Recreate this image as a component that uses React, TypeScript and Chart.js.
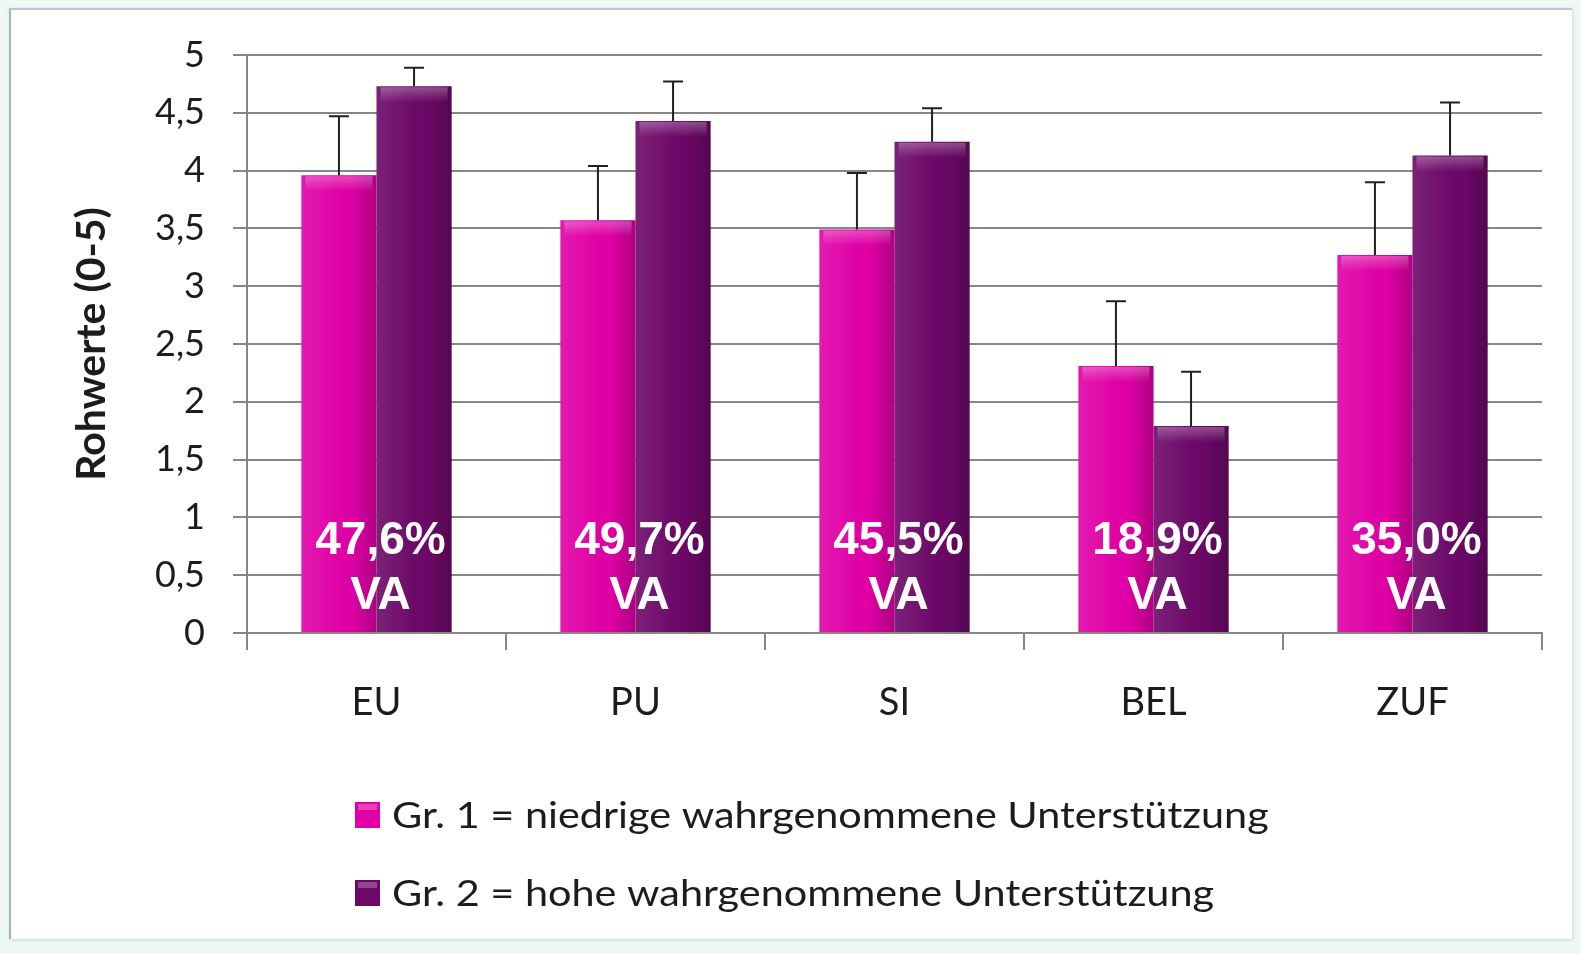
import React, { useEffect, useRef } from 'react';
import { Chart, registerables } from 'chart.js';

Chart.register(...registerables);

const categories = ['EU', 'PU', 'SI', 'BEL', 'ZUF'];
const group1Values = [3.96, 3.57, 3.49, 2.31, 3.27];
const group2Values = [4.73, 4.43, 4.25, 1.79, 4.13];
const group1Errors = [0.51, 0.47, 0.49, 0.56, 0.63];
const group2Errors = [0.16, 0.34, 0.29, 0.47, 0.46];
const yTickLabels = ['0', '0,5', '1', '1,5', '2', '2,5', '3', '3,5', '4', '4,5', '5'];
const vaPercentLabels = ['47,6%', '49,7%', '45,5%', '18,9%', '35,0%'];
const vaSuffix = 'VA';
const seriesLabels = [
  'Gr. 1 = niedrige wahrgenommene Unterstützung',
  'Gr. 2 = hohe wahrgenommene Unterstützung',
];
const yAxisTitle = 'Rohwerte (0-5)';

const PINK = '#e000a6';
const PURPLE = '#6c0868';
const GRID = '#868686';
const TEXT = '#1c1c1c';

const glossPlugin = {
  id: 'gloss',
  afterDatasetsDraw(chart: any) {
    const ctx = chart.ctx;
    chart.data.datasets.forEach((_: any, di: number) => {
      const meta = chart.getDatasetMeta(di);
      meta.data.forEach((bar: any) => {
        const left = bar.x - bar.width / 2;
        const w = bar.width;
        const top = bar.y;
        const h = bar.base - bar.y;
        ctx.save();
        const g = ctx.createLinearGradient(left, 0, left + w, 0);
        g.addColorStop(0, 'rgba(255,255,255,0.10)');
        g.addColorStop(0.35, 'rgba(255,255,255,0.04)');
        g.addColorStop(0.65, 'rgba(0,0,0,0)');
        g.addColorStop(1, 'rgba(0,0,0,0.22)');
        ctx.fillStyle = g;
        ctx.fillRect(left, top, w, h);
        const tg = ctx.createLinearGradient(0, top, 0, top + 16);
        tg.addColorStop(0, 'rgba(255,255,255,0.30)');
        tg.addColorStop(1, 'rgba(255,255,255,0)');
        ctx.fillStyle = tg;
        ctx.fillRect(left + 4, top + 1, w - 8, 16);
        ctx.restore();
      });
    });
  },
};

const errorBarPlugin = {
  id: 'errorBars',
  afterDatasetsDraw(chart: any) {
    const ctx = chart.ctx;
    const yScale = chart.scales.y;
    const errs = [group1Errors, group2Errors];
    chart.data.datasets.forEach((ds: any, di: number) => {
      const meta = chart.getDatasetMeta(di);
      meta.data.forEach((bar: any, i: number) => {
        const v = ds.data[i];
        const topPx = yScale.getPixelForValue(v + errs[di][i]);
        ctx.save();
        ctx.strokeStyle = '#202020';
        ctx.lineWidth = 2;
        ctx.beginPath();
        ctx.moveTo(bar.x, bar.y);
        ctx.lineTo(bar.x, topPx);
        ctx.moveTo(bar.x - 10, topPx);
        ctx.lineTo(bar.x + 10, topPx);
        ctx.stroke();
        ctx.restore();
      });
    });
  },
};

const vaLabelPlugin = {
  id: 'vaLabels',
  afterDatasetsDraw(chart: any) {
    const ctx = chart.ctx;
    const xScale = chart.scales.x;
    const bottom = chart.chartArea.bottom;
    ctx.save();
    ctx.fillStyle = '#ffffff';
    ctx.font = 'bold 46px "Liberation Sans", Arial, sans-serif';
    ctx.textAlign = 'center';
    ctx.textBaseline = 'middle';
    vaPercentLabels.forEach((lbl, i) => {
      const x = xScale.getPixelForValue(i) + 4;
      ctx.fillText(lbl, x, bottom - 92);
      ctx.fillText(vaSuffix, x, bottom - 37);
    });
    ctx.restore();
  },
};

const legendPlugin = {
  id: 'customLegend',
  afterDraw(chart: any) {
    const ctx = chart.ctx;
    const colors = [PINK, PURPLE];
    const rowY = [815, 893];
    ctx.save();
    seriesLabels.forEach((lbl, i) => {
      const y = rowY[i];
      ctx.fillStyle = colors[i];
      ctx.fillRect(355, y - 13, 25, 26);
      ctx.fillStyle = 'rgba(255,255,255,0.25)';
      ctx.fillRect(358, y - 11, 19, 6);
      ctx.save();
      ctx.translate(392, y + 1);
      ctx.scale(1.15, 1);
      ctx.font = '36px Lato, sans-serif';
      ctx.textBaseline = 'middle';
      ctx.textAlign = 'left';
      ctx.fillStyle = TEXT;
      ctx.fillText(lbl, 0, 0);
      ctx.restore();
    });
    ctx.restore();
  },
};

export default function App() {
  const canvasRef = useRef<HTMLCanvasElement | null>(null);

  useEffect(() => {
    document.body.style.margin = '0';
    const canvas = canvasRef.current;
    if (!canvas) return;
    const chart = new Chart(canvas, {
      type: 'bar',
      data: {
        labels: categories,
        datasets: [
          {
            label: seriesLabels[0],
            data: group1Values,
            backgroundColor: PINK,
            borderWidth: 0,
            categoryPercentage: 0.58,
            barPercentage: 1,
          },
          {
            label: seriesLabels[1],
            data: group2Values,
            backgroundColor: PURPLE,
            borderWidth: 0,
            categoryPercentage: 0.58,
            barPercentage: 1,
          },
        ],
      },
      options: {
        responsive: false,
        animation: false,
        devicePixelRatio: 1,
        layout: { padding: { top: 55, right: 39, left: 0, bottom: 221 } },
        plugins: {
          legend: { display: false },
          tooltip: { enabled: false },
        },
        scales: {
          x: {
            afterFit: (s: any) => {
              s.height = 100;
            },
            grid: {
              display: true,
              offset: true,
              drawOnChartArea: false,
              drawTicks: true,
              tickLength: 17,
              color: GRID,
              lineWidth: 2,
            },
            border: { display: true, color: GRID, width: 2 },
            ticks: {
              color: TEXT,
              font: { family: 'Lato, sans-serif', size: 38 },
              padding: 30,
              maxRotation: 0,
            },
          },
          y: {
            min: 0,
            max: 5,
            afterFit: (s: any) => {
              s.width = 247;
            },
            ticks: {
              stepSize: 0.5,
              color: TEXT,
              font: { family: 'Lato, sans-serif', size: 36 },
              padding: 28,
              callback: (_v: any, idx: number) => yTickLabels[idx],
            },
            grid: {
              color: GRID,
              lineWidth: 2,
              tickLength: 14,
            },
            border: { display: true, color: GRID, width: 2 },
            title: {
              display: true,
              text: yAxisTitle,
              color: TEXT,
              font: { family: 'Lato, sans-serif', size: 41, weight: 'bold' },
              padding: { top: 67, bottom: 0 },
            },
          },
        },
      },
      plugins: [glossPlugin, errorBarPlugin, vaLabelPlugin, legendPlugin],
    } as any);
    return () => chart.destroy();
  }, []);

  return (
    <div
      style={{
        position: 'fixed',
        left: 0,
        top: 0,
        width: 1581,
        height: 954,
        background: '#eff8f3',
        overflow: 'hidden',
      }}
    >
      <div
        style={{
          position: 'absolute',
          left: 9,
          top: 8,
          width: 1561,
          height: 929,
          background: '#fffffd',
          borderLeft: '2px solid #9cb3c9',
          borderTop: '2px solid #b7c9d9',
          boxShadow: '1px 1px 3px rgba(180,200,190,0.6)',
        }}
      />
      <canvas
        ref={canvasRef}
        width={1581}
        height={954}
        style={{ position: 'absolute', left: 0, top: 0, width: 1581, height: 954 }}
      />
    </div>
  );
}
